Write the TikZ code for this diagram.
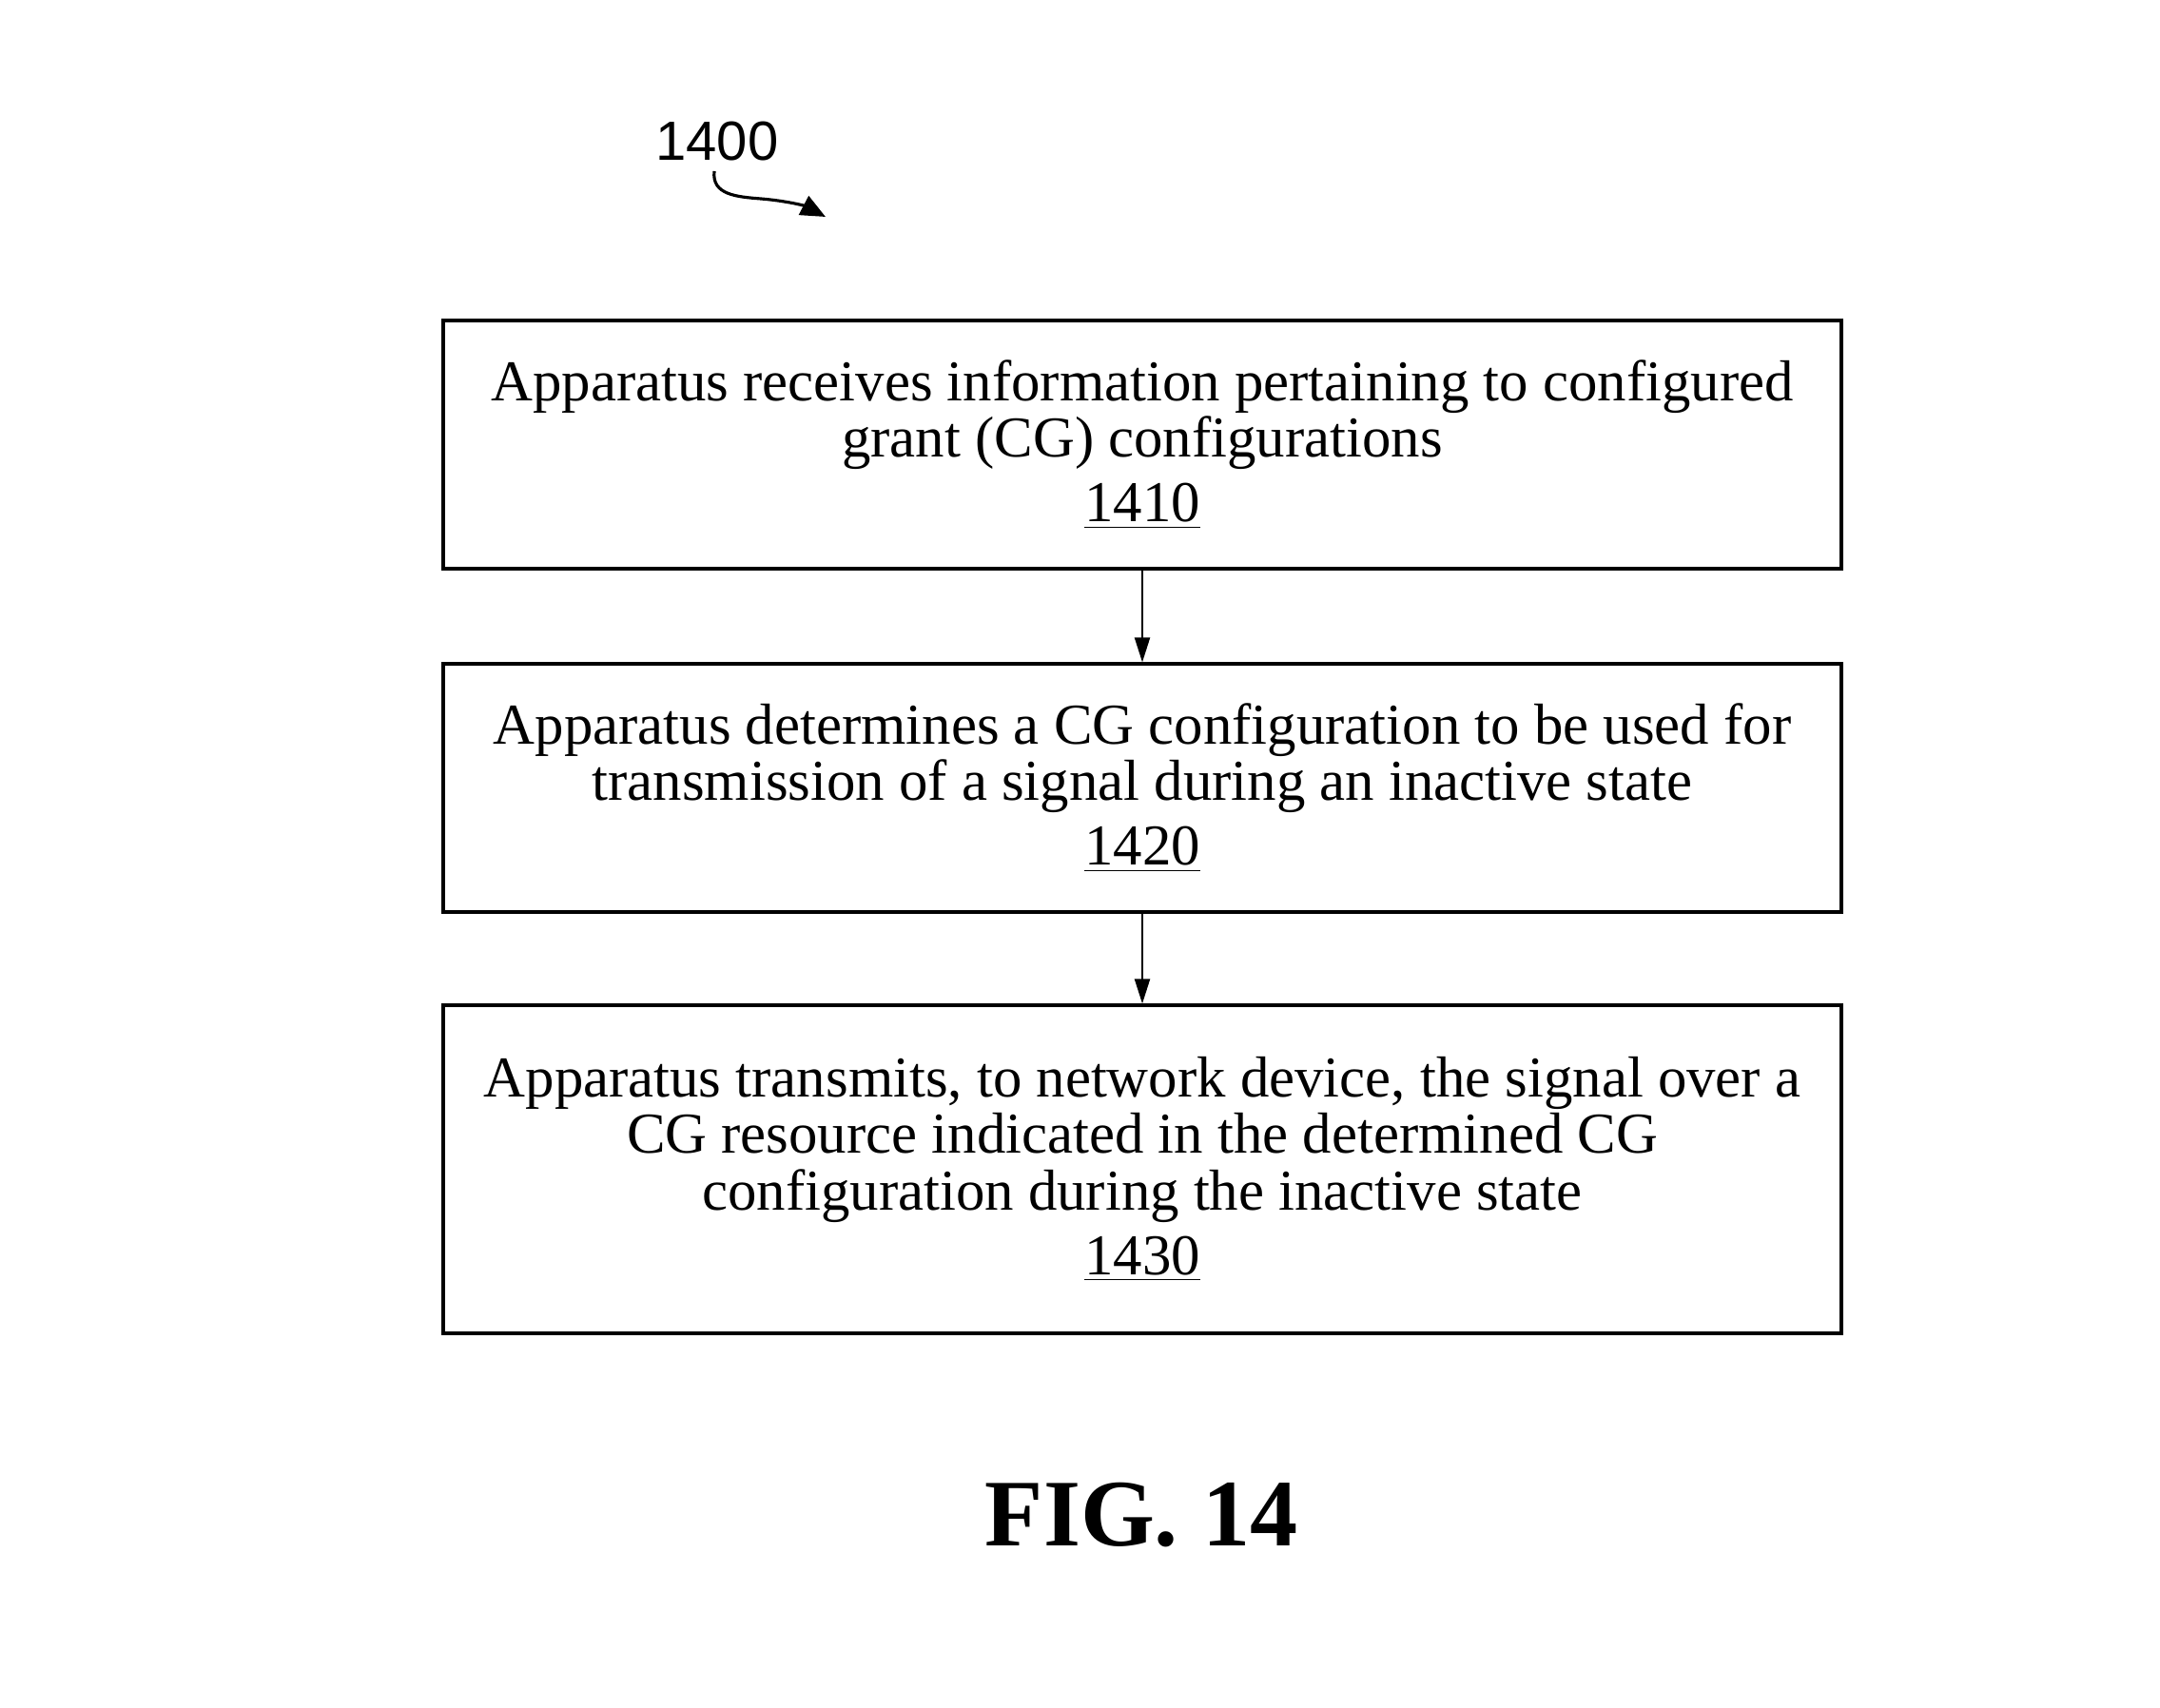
\documentclass[tikz,border=0pt]{standalone}
\usepackage{fontspec}
\setmainfont{Liberation Serif}
\newfontfamily\labelfont{Liberation Sans}
\usetikzlibrary{arrows.meta}
\newcommand{\refnum}[1]{\underline{#1}}
\tikzset{
  stepbox/.style={draw, line width=0.9pt, minimum width=14.7cm, inner sep=0pt, align=center,
    font=\fontsize{17.3}{16.9}\selectfont},
  flowarrow/.style={line width=0.6pt, -{Triangle[length=2.6mm,width=1.6mm]}}
}
\begin{document}
\begin{tikzpicture}
\useasboundingbox (0,0) rectangle (22.71,-17.96);
\node[font=\labelfont\fontsize{16.5}{20}\selectfont] (lbl) at (7.54,-1.49) {1400};
\coordinate (sqs) at (7.51,-1.80);
\coordinate (sqe) at (8.68,-2.28);
\draw[line width=0.9pt, -{Triangle[length=2.6mm,width=2.2mm]}] (sqs) .. controls (7.48,-2.05) and (7.75,-2.07) .. (8.00,-2.09) .. controls (8.25,-2.11) and (8.45,-2.16) .. (sqe);
\node[stepbox, minimum height=2.61cm] (b1) at (12.01,-4.675)
  {Apparatus receives information pertaining to configured\\grant (CG) configurations\\[2.5pt]\refnum{1410}};
\node[stepbox, minimum height=2.61cm] (b2) at (12.01,-8.285)
  {Apparatus determines a CG configuration to be used for\\transmission of a signal during an inactive state\\[2.5pt]\refnum{1420}};
\node[stepbox, minimum height=3.45cm] (b3) at (12.01,-12.295)
  {Apparatus transmits, to network device, the signal over a\\CG resource indicated in the determined CG\\configuration during the inactive state\\[2.5pt]\refnum{1430}};
\draw[flowarrow] (b1.south) -- (b2.north);
\draw[flowarrow] (b2.south) -- (b3.north);
\node[font=\bfseries\fontsize{28.5}{32}\selectfont] (fig) at (12.00,-15.93) {FIG. 14};
\end{tikzpicture}
\end{document}
